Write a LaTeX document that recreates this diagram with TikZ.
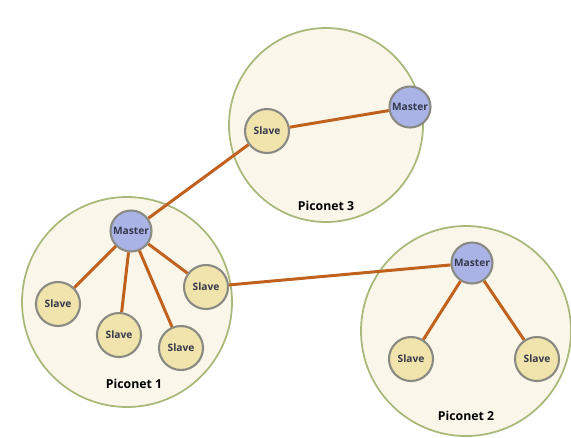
\documentclass[tikz,border=0pt]{standalone}
\usepackage{fontspec}
\setmainfont{Open Sans}
\definecolor{netfill}{HTML}{FBF6EA}
\definecolor{netline}{HTML}{A9B97A}
\definecolor{slavefill}{HTML}{F1E3AC}
\definecolor{masterfill}{HTML}{A9B3E6}
\definecolor{nodeline}{HTML}{8A8A84}
\definecolor{nodetext}{HTML}{33384A}
\definecolor{linkcol}{HTML}{C0611E}
\tikzset{
  piconet/.style={draw=netline, fill=netfill, line width=1pt},
  slave/.style={circle, draw=nodeline, fill=slavefill, line width=1.2pt, minimum size=0.88cm, inner sep=0pt, text=nodetext, font=\fontsize{5.8}{6}\selectfont\bfseries},
  master/.style={slave, fill=masterfill, minimum size=0.82cm},
  netlabel/.style={font=\fontsize{7}{8}\selectfont\bfseries},
  link/.style={draw=linkcol, line width=1.7pt}
}
\begin{document}
\begin{tikzpicture}[x=0.02cm, y=-0.02cm]
    \useasboundingbox (0,0) rectangle (571,437);

    % First the three piconet areas
    \draw [piconet] (326,125) circle [radius=97];
    \draw [piconet] (127,302) circle [radius=105];
    \draw [piconet] (466,331) circle [radius=105];

    % Now piconet 3
    \node [slave]  (s3a) at (267,131) {Slave};
    \node [master] (m3)  at (410,107) {Master};
    \node [netlabel] (p3) at (326,206) {Piconet 3};

    % Now piconet 1
    \node [master] (m1)  at (131,231) {Master};
    \node [slave]  (s1a) at (58,304)  {Slave};
    \node [slave]  (s1b) at (119,335) {Slave};
    \node [slave]  (s1c) at (181,348) {Slave};
    \node [slave]  (s1d) at (206,287) {Slave};
    \node [netlabel] (p1) at (134,384) {Piconet 1};

    % Now piconet 2
    \node [master] (m2)  at (472,263) {Master};
    \node [slave]  (s2a) at (411,359) {Slave};
    \node [slave]  (s2b) at (537,359) {Slave};
    \node [netlabel] (p2) at (466,416) {Piconet 2};

    % Finally the links between the nodes
    \draw [link] (s3a) -- (m3);
    \draw [link] (m1) -- (s3a);
    \draw [link] (m1) -- (s1a);
    \draw [link] (m1) -- (s1b);
    \draw [link] (m1) -- (s1c);
    \draw [link] (m1) -- (s1d);
    \draw [link] (s1d) -- (m2);
    \draw [link] (m2) -- (s2a);
    \draw [link] (m2) -- (s2b);

\end{tikzpicture}
\end{document}
